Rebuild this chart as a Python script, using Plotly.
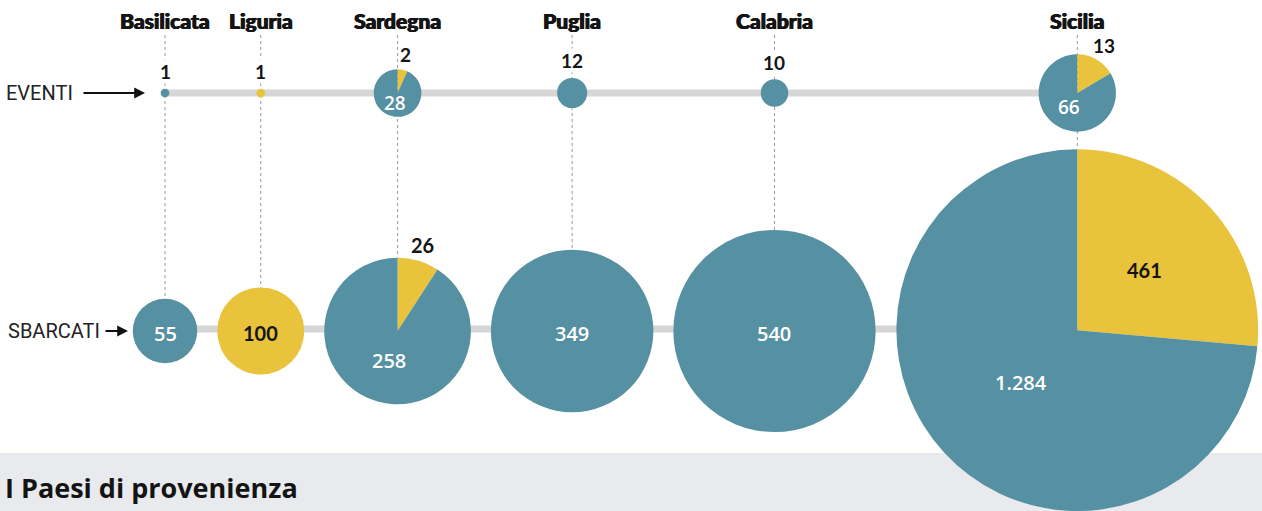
import numpy as np
import plotly.graph_objects as go

# ---------------- data ----------------
regions = ["Basilicata", "Liguria", "Sardegna", "Puglia", "Calabria", "Sicilia"]
eventi_blu = [1, 0, 28, 12, 10, 66]
eventi_giallo = [0, 1, 2, 0, 0, 13]
sbarcati_blu = [55, 0, 258, 349, 540, 1284]
sbarcati_giallo = [0, 100, 26, 0, 0, 461]
row_labels = ["EVENTI", "SBARCATI"]
footer_title = "I Paesi di provenienza"

# ---------------- layout / style ----------------
W, H = 1262, 511
BLUE = "#5690a3"
YELLOW = "#e8c33b"
LINE_GRAY = "#d6d6d6"
BAND = "#e8eaed"
INK = "#141414"
K = 4.35        # pixels of radius per sqrt(unit)
GAP = 20        # gap between the SBARCATI circles
X0 = 165
Y_EV = 93
Y_SB = 331
NUM_FONT = "Open Sans"
BLACK_FONT = "Lato"
HEAD_FONT = "Lato"
ROW_FONT = "Roboto"


def fmt(v):
    return f"{v:,}".replace(",", ".")


n = len(regions)
tot_ev = [b + g for b, g in zip(eventi_blu, eventi_giallo)]
tot_sb = [b + g for b, g in zip(sbarcati_blu, sbarcati_giallo)]
r_ev = [K * np.sqrt(t) for t in tot_ev]
r_sb = [K * np.sqrt(t) for t in tot_sb]
cx = [X0]
for i in range(1, n):
    cx.append(cx[-1] + r_sb[i - 1] + GAP + r_sb[i])

fig = go.Figure()
# invisible trace to anchor the pixel-like cartesian axes
fig.add_trace(go.Scatter(x=[0, W], y=[0, H], mode="markers",
                         marker=dict(opacity=0), hoverinfo="skip", showlegend=False))

shapes = []
annotations = []

# bottom band
shapes.append(dict(type="rect", xref="x", yref="y", x0=0, x1=W, y0=453, y1=H + 5,
                   fillcolor=BAND, line=dict(width=0), layer="below"))
# horizontal gray connectors
shapes.append(dict(type="line", xref="x", yref="y", x0=cx[0], x1=cx[-1], y0=Y_EV, y1=Y_EV,
                   line=dict(color=LINE_GRAY, width=7), layer="below"))
shapes.append(dict(type="line", xref="x", yref="y", x0=cx[0], x1=cx[-1], y0=Y_SB - 2, y1=Y_SB - 2,
                   line=dict(color=LINE_GRAY, width=7), layer="below"))
# dotted verticals
for i in range(n):
    shapes.append(dict(type="line", xref="x", yref="y", x0=cx[i], x1=cx[i], y0=35,
                       y1=Y_SB - r_sb[i], line=dict(color="#9a9a9a", width=1, dash="dot"),
                       layer="below"))


def add_pie(x, y, r, blu, giallo):
    fig.add_trace(go.Pie(
        values=[giallo, blu], labels=["giallo", "blu"],
        marker=dict(colors=[YELLOW, BLUE], line=dict(width=0)),
        sort=False, direction="clockwise", rotation=0,
        textinfo="none", hoverinfo="skip", showlegend=False,
        domain=dict(x=[max(0, (x - r) / W), min(1, (x + r) / W)],
                    y=[max(0, 1 - (y + r) / H), min(1, 1 - (y - r) / H)]),
    ))


def label(x, y, text, color, size, bg=None, weight=600, family=NUM_FONT):
    annotations.append(dict(xref="x", yref="y", x=x, y=y, text=text, showarrow=False,
                            font=dict(family=family, size=size, color=color, weight=weight),
                            bgcolor=bg, borderpad=0))


def polar(x, y, ang_deg, dist):
    a = np.radians(ang_deg)
    return x + dist * np.sin(a), y - dist * np.cos(a)


def pie_labels(x, y, r, blu, giallo, size, single_above):
    tot = blu + giallo
    if blu == 0 or giallo == 0:
        v = blu if giallo == 0 else giallo
        if single_above:
            label(x, y - r - 17, fmt(v), INK, size, bg="white", weight=700, family=BLACK_FONT)
        elif giallo == 0:
            label(x, y + 2, fmt(v), "white", size)
        else:
            label(x, y + 2, fmt(v), INK, size, weight=700, family=BLACK_FONT)
        return
    fy = giallo / tot
    ang_y = 180 * fy
    ang_b = 360 * fy + 180 * (1 - fy)
    if r * fy > 20:
        px, py = polar(x, y, ang_y, 0.5 * r)
    else:
        px, py = polar(x, y, ang_y, r + 16)
    label(px, py, fmt(giallo), INK, size, weight=700, family=BLACK_FONT)
    px, py = polar(x, y, ang_b, 0.42 * r)
    label(px, py, fmt(blu), "white", size)


for i in range(n):
    add_pie(cx[i], Y_EV, r_ev[i], eventi_blu[i], eventi_giallo[i])
    add_pie(cx[i], Y_SB, r_sb[i], sbarcati_blu[i], sbarcati_giallo[i])

for i in range(n):
    pie_labels(cx[i], Y_EV, r_ev[i], eventi_blu[i], eventi_giallo[i], 19, True)
    pie_labels(cx[i], Y_SB, r_sb[i], sbarcati_blu[i], sbarcati_giallo[i], 20, False)
    annotations.append(dict(xref="x", yref="y", x=cx[i], y=20, text=regions[i], showarrow=False,
                            font=dict(family=HEAD_FONT, size=21, color=INK, weight=900,
                                      shadow="0.7px 0 0 #141414, -0.4px 0 0 #141414")))

# row labels and arrows
annotations.append(dict(xref="x", yref="y", x=4, y=Y_EV, xanchor="left", text=row_labels[0],
                        showarrow=False, font=dict(family=ROW_FONT, size=20, color="#222")))
annotations.append(dict(xref="x", yref="y", x=145, y=Y_EV, ax=82, ay=Y_EV, axref="x", ayref="y",
                        text="", showarrow=True, arrowhead=2, arrowsize=1.2, arrowwidth=1.8,
                        arrowcolor="#111"))
annotations.append(dict(xref="x", yref="y", x=6, y=Y_SB, xanchor="left", text=row_labels[1],
                        showarrow=False, font=dict(family=ROW_FONT, size=20, color="#222")))
annotations.append(dict(xref="x", yref="y", x=128, y=Y_SB, ax=104, ay=Y_SB, axref="x", ayref="y",
                        text="", showarrow=True, arrowhead=2, arrowsize=1.2, arrowwidth=1.8,
                        arrowcolor="#111"))
# footer title
annotations.append(dict(xref="x", yref="y", x=3, y=487, xanchor="left", text=footer_title,
                        showarrow=False, font=dict(family=NUM_FONT, size=27, color=INK, weight=700)))

fig.update_layout(
    width=W, height=H, margin=dict(l=0, r=0, t=0, b=0),
    paper_bgcolor="white", plot_bgcolor="white",
    xaxis=dict(range=[0, W], visible=False, fixedrange=True),
    yaxis=dict(range=[H, 0], visible=False, fixedrange=True),
    shapes=shapes, annotations=annotations, showlegend=False,
)

fig.write_html("out.html", config={"displayModeBar": False},
               post_script="document.body.style.margin='0';document.body.style.overflow='hidden';")
